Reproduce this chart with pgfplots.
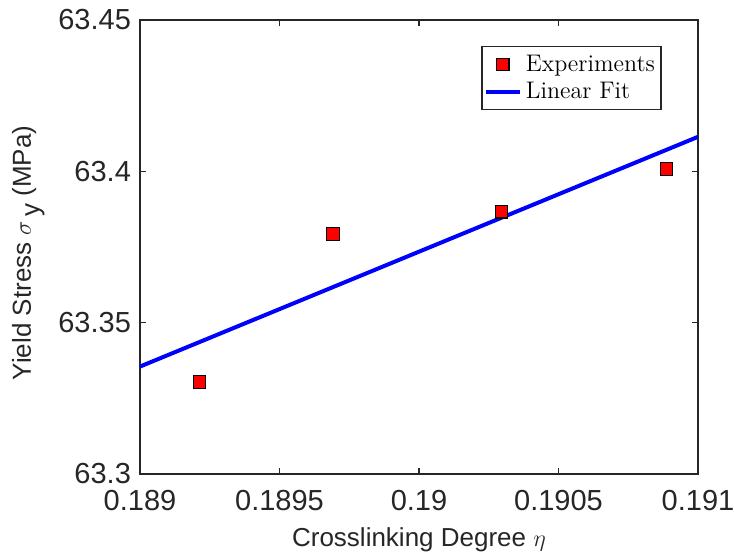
\documentclass[border=0pt]{standalone}
\usepackage{pgfplots}
\pgfplotsset{compat=1.18}
\usepackage{fontspec}
\setsansfont{Liberation Sans}
\definecolor{axgray}{RGB}{38,38,38}
\begin{document}
\begin{tikzpicture}
\begin{axis}[name=ax, scale only axis, width=279pt, height=227pt,
 xmin=0.189, xmax=0.191, ymin=63.3, ymax=63.45,
 xtick={0.189,0.1895,0.19,0.1905,0.191}, xticklabels={0.189,0.1895,0.19,0.1905,0.191},
 ytick={63.3,63.35,63.4,63.45}, yticklabels={63.3,63.35,63.4,63.45},
 scaled x ticks=false, scaled y ticks=false,
 tick align=inside, major tick length=3pt,
 axis line style={axgray, line width=1.2pt},
 tick style={axgray, line width=0.8pt},
 ticklabel style={font=\sffamily\fontsize{14.5}{17}\selectfont, text=axgray},
 xticklabel style={yshift=-4.5pt},
 yticklabel style={xshift=-1pt},
 xlabel={Crosslinking Degree $\eta$},
 ylabel={Yield Stress $\sigma$\,\raisebox{-0.6ex}{y} (MPa)},
 label style={font=\sffamily\fontsize{13}{15}\selectfont, text=axgray},
 xlabel style={at={(axis description cs:0.5,-0.145)}, anchor=center},
 ylabel style={at={(axis description cs:-0.2,0.487)}, anchor=center},
 legend style={at={(rel axis cs:0.935,0.943)}, anchor=north east, draw=axgray, line width=0.8pt,
   font=\fontsize{12}{14}\selectfont, inner xsep=1pt, inner ysep=2pt},
 legend cell align=left,
]
\addplot[only marks, mark=square*, mark size=3.1pt, mark options={fill=red, draw=black, line width=0.6pt}]
 coordinates {(0.189213,63.3304) (0.189692,63.3793) (0.190295,63.3866) (0.190887,63.4008)};
\addlegendentry{Experiments}
\addplot[blue, line width=2pt] coordinates {(0.189,63.3355) (0.191,63.4114)};
\addlegendentry{Linear Fit}
\end{axis}
\pgfresetboundingbox
\path[use as bounding box] ([shift={(-70pt,-41.5pt)}]ax.south west) rectangle ([shift={(297pt,237pt)}]ax.south west);
\end{tikzpicture}
\end{document}
